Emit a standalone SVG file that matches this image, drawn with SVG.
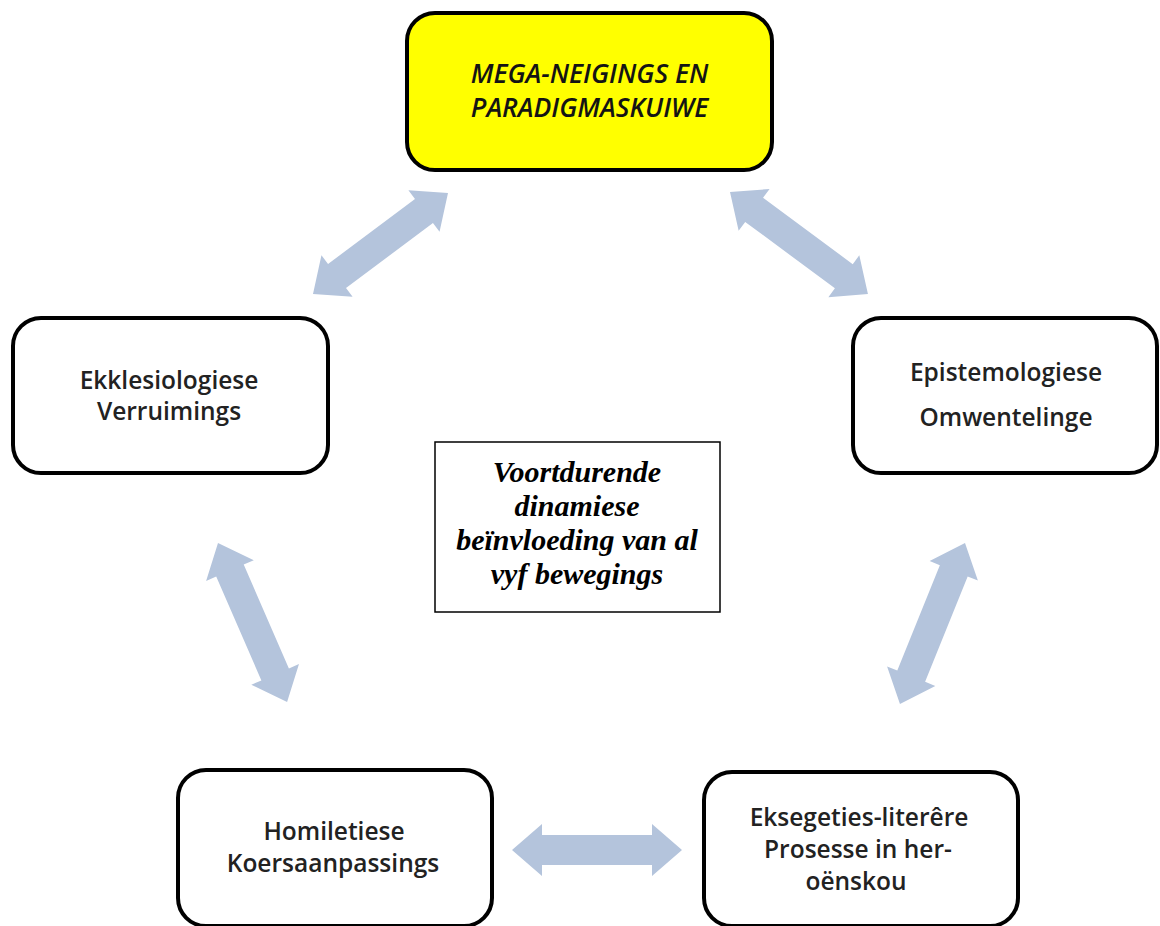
<svg xmlns="http://www.w3.org/2000/svg" width="1160" height="926" viewBox="0 0 1160 926">
  <style>
    .box { fill: #ffffff; stroke: #000000; stroke-width: 4; }
    .box-hl { fill: #ffff00; stroke: #000000; stroke-width: 4; }
    .note { fill: #ffffff; stroke: #000000; stroke-width: 1.5; }
    .lbl { font-family: "Open Sans", "Liberation Sans", sans-serif; font-size: 24.5px; font-weight: 600; fill: #222222; text-anchor: middle; }
    .lbl-hl { font-family: "Open Sans", "Liberation Sans", sans-serif; font-style: italic; font-weight: 600; font-size: 26.5px; fill: #141414; text-anchor: middle; }
    .note-txt { font-family: "Liberation Serif", "Times New Roman", serif; font-style: italic; font-weight: bold; font-size: 30px; fill: #000000; text-anchor: middle; }
    .arrow { fill: #b4c4dc; }
  </style>

  <rect width="1160" height="926" fill="#ffffff"/>

  <!-- double-headed connectors between the five movements -->
  <g id="connectors">
    <path class="arrow" transform="translate(313,294) rotate(-36.8)" d="M0,0 L30,-26 L30,-15 L138.6,-15 L138.6,-26 L168.6,0 L138.6,26 L138.6,15 L30,15 L30,26 Z"/>
    <path class="arrow" transform="translate(730,192) rotate(36.5)" d="M0,0 L30,-26 L30,-15 L141.6,-15 L141.6,-26 L171.6,0 L141.6,26 L141.6,15 L30,15 L30,26 Z"/>
    <path class="arrow" transform="translate(218,543) rotate(66.5)" d="M0,0 L30,-26 L30,-15 L143.3,-15 L143.3,-26 L173.3,0 L143.3,26 L143.3,15 L30,15 L30,26 Z"/>
    <path class="arrow" transform="translate(965,543) rotate(112)" d="M0,0 L30,-26 L30,-15 L143.6,-15 L143.6,-26 L173.6,0 L143.6,26 L143.6,15 L30,15 L30,26 Z"/>
    <path class="arrow" transform="translate(512,850)" d="M0,0 L30,-26 L30,-15 L140,-15 L140,-26 L170,0 L140,26 L140,15 L30,15 L30,26 Z"/>
  </g>

  <g id="node-mega">
    <rect class="box-hl" x="407" y="13" width="365" height="157" rx="28"/>
    <text class="lbl-hl" x="589.5" y="83">MEGA-NEIGINGS EN</text>
    <text class="lbl-hl" x="589.5" y="117">PARADIGMASKUIWE</text>
  </g>

  <g id="node-ekklesiologiese">
    <rect class="box" x="13" y="318" width="315" height="155" rx="28"/>
    <text class="lbl" x="169" y="389">Ekklesiologiese</text>
    <text class="lbl" x="169" y="420">Verruimings</text>
  </g>

  <g id="node-epistemologiese">
    <rect class="box" x="853" y="318" width="304" height="155" rx="28"/>
    <text class="lbl" x="1006" y="381">Epistemologiese</text>
    <text class="lbl" x="1006" y="426">Omwentelinge</text>
  </g>

  <g id="node-homiletiese">
    <rect class="box" x="178" y="770" width="314" height="156" rx="28"/>
    <text class="lbl" x="334" y="840">Homiletiese</text>
    <text class="lbl" x="333" y="872">Koersaanpassings</text>
  </g>

  <g id="node-eksegeties">
    <rect class="box" x="704" y="772" width="314" height="154" rx="28"/>
    <text class="lbl" x="859" y="826">Eksegeties-literêre</text>
    <text class="lbl" x="858" y="858">Prosesse in her-</text>
    <text class="lbl" x="856" y="890">oënskou</text>
  </g>

  <g id="node-dinamiek">
    <rect class="note" x="435" y="442" width="285" height="170"/>
    <text class="note-txt" x="577" y="482">Voortdurende</text>
    <text class="note-txt" x="577" y="516">dinamiese</text>
    <text class="note-txt" x="577" y="550">beïnvloeding van al</text>
    <text class="note-txt" x="577" y="584">vyf bewegings</text>
  </g>
</svg>
